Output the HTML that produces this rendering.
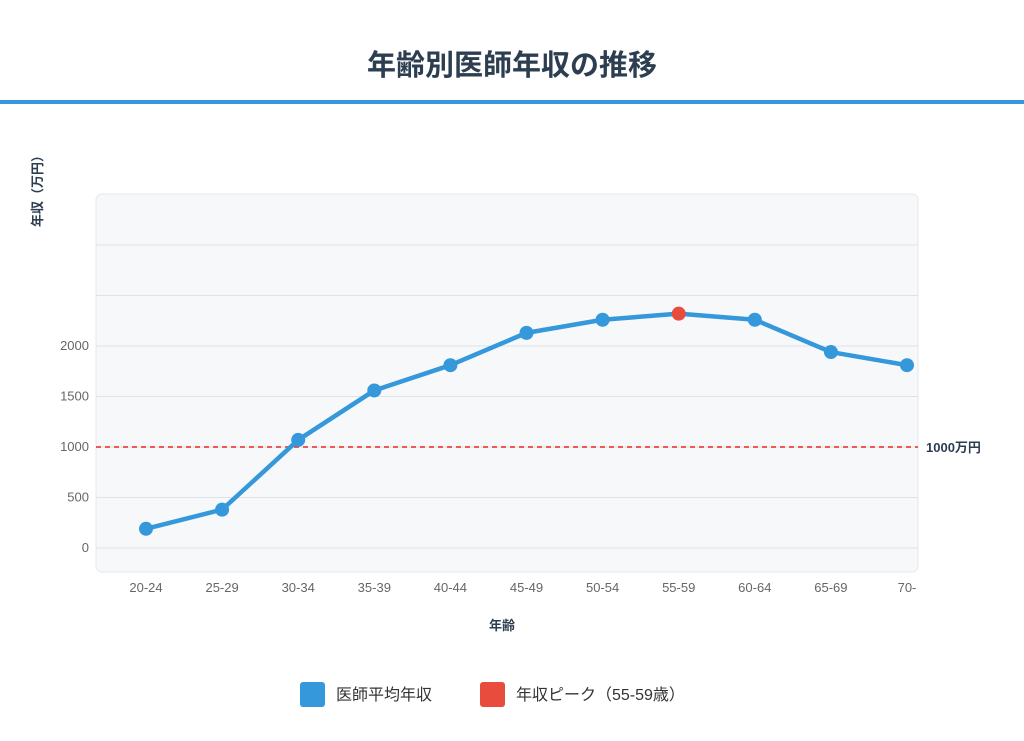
<!DOCTYPE html>
<html><head><meta charset="utf-8">
<style>
body{margin:0;width:1024px;height:741px;background:#fff;font-family:"Liberation Sans","Noto Sans CJK JP",sans-serif;overflow:hidden}
</style></head>
<body>
<svg width="1024" height="741" style="position:absolute;left:0;top:0">
<text x="512" y="75" text-anchor="middle" font-size="29" font-weight="bold" fill="#2c3e50" font-family="Liberation Sans, Noto Sans CJK JP, sans-serif">年齢別医師年収の推移</text>
<rect x="0" y="100" width="1024" height="4" fill="#3498db"/>
<rect x="96" y="194" width="822" height="378" rx="6" fill="#f7f8fa" stroke="#e6e8eb"/>
<g id="grid"></g>
<g id="ticks"></g>
<text x="42" y="188" transform="rotate(-90 42 188)" text-anchor="middle" font-size="13" font-weight="bold" fill="#2c3e50">年収（万円）</text>
<text x="502" y="630" text-anchor="middle" font-size="13" font-weight="bold" fill="#2c3e50">年齢</text>
<g id="ref"></g>
<path id="line" fill="none" stroke="#3498db" stroke-width="4.5" stroke-linejoin="round"/>
<g id="pts"></g>
<g>
<rect x="300" y="682" width="25" height="25" rx="3" fill="#3498db"/>
<text x="336" y="700" font-size="16" fill="#333">医師平均年収</text>
<rect x="480" y="682" width="25" height="25" rx="3" fill="#e74c3c"/>
<text x="516" y="700" font-size="16" fill="#333">年収ピーク（55-59歳）</text>
</g>
</svg>
<script>
const categories=["20-24","25-29","30-34","35-39","40-44","45-49","50-54","55-59","60-64","65-69","70-"];
const incomes=[190,380,1070,1560,1810,2130,2260,2320,2260,1940,1810];
const yTicks=[0,500,1000,1500,2000];
const gridValues=[0,500,1000,1500,2000,2500,3000];
const refValue=1000;
const refLabel="1000万円";
const peakIndex=7;
const NS="http://www.w3.org/2000/svg";
const x=i=>146+i*(907-146)/(categories.length-1);
const y=v=>548-v*(548-346)/2000;
function mk(tag,attrs,parent){const e=document.createElementNS(NS,tag);for(const k in attrs)e.setAttribute(k,attrs[k]);parent.appendChild(e);return e;}
const grid=document.getElementById('grid'),ticks=document.getElementById('ticks'),pts=document.getElementById('pts'),ref=document.getElementById('ref');
gridValues.forEach(v=>{const l=mk('line',{x1:96,x2:918,y1:y(v),y2:y(v),stroke:'#dfe2e6','stroke-width':1},grid);

});
yTicks.forEach(v=>{const t=mk('text',{x:89,y:y(v)+4,'text-anchor':'end','font-size':13,fill:'#666'},ticks);t.textContent=v;

});
categories.forEach((c,i)=>{const t=mk('text',{x:x(i),y:592,'text-anchor':'middle','font-size':13,fill:'#666'},ticks);t.textContent=c;

});
const rl=mk('line',{x1:96,x2:918,y1:y(refValue),y2:y(refValue),stroke:'#e8281c','stroke-width':1.6,'stroke-dasharray':'5,4'},ref);


const rt=mk('text',{x:926,y:y(refValue)+5,'font-size':13,'font-weight':'bold',fill:'#2c3e50'},ref);rt.textContent=refLabel;


document.getElementById('line').setAttribute('d',incomes.map((v,i)=>(i?'L':'M')+x(i)+' '+y(v)).join(' '));
incomes.forEach((v,i)=>{const c=mk('circle',{cx:x(i),cy:y(v),r:7,fill:i===peakIndex?'#e74c3c':'#3498db'},pts);

});
</script>
</body></html>
